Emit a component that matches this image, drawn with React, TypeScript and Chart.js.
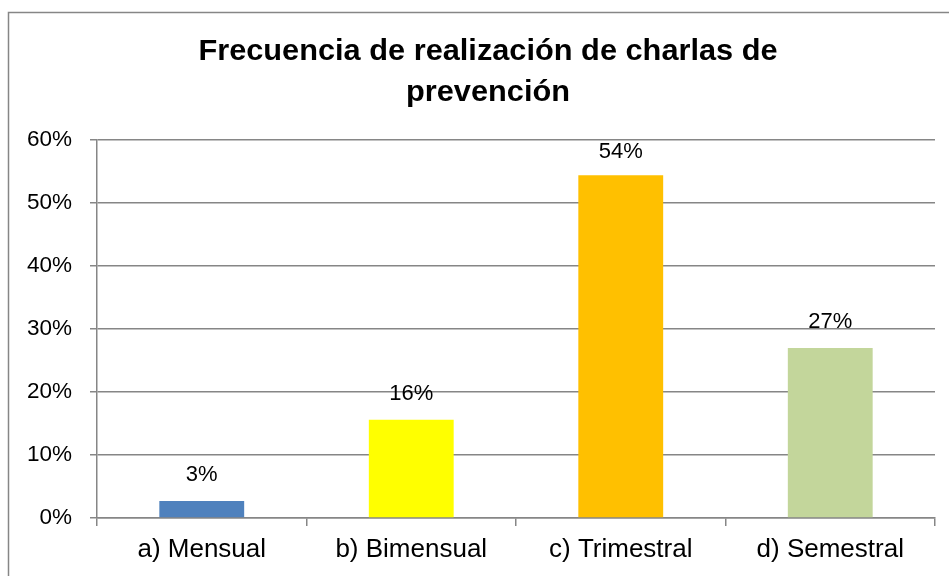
import React, { useEffect, useRef } from "react";
import { Chart, registerables } from "chart.js";

Chart.register(...registerables);

const titleLines = ["Frecuencia de realización de charlas de", "prevención"];
const categories = ["a) Mensual", "b) Bimensual", "c) Trimestral", "d) Semestral"];
const values = [2.7, 15.6, 54.4, 27.0];
const valueLabels = ["3%", "16%", "54%", "27%"];
const barColors = ["#4F81BD", "#FFFF00", "#FFC000", "#C3D69B"];
const yTicks = [0, 10, 20, 30, 40, 50, 60];

const FONT = "'Liberation Sans', Arial, sans-serif";

export default function App() {
  const ref = useRef<HTMLCanvasElement | null>(null);

  useEffect(() => {
    document.body.style.margin = "0";
    document.body.style.background = "#ffffff";
    const canvas = ref.current!;
    const framePlugin = {
      id: "frame",
      beforeDraw(chart: any) {
        const ctx = chart.ctx;
        ctx.save();
        ctx.fillStyle = "#ffffff";
        ctx.fillRect(0, 0, chart.width, chart.height);
        ctx.strokeStyle = "#868686";
        ctx.lineWidth = 1.5;
        ctx.beginPath();
        ctx.moveTo(8.5, chart.height + 5);
        ctx.lineTo(8.5, 12.5);
        ctx.lineTo(chart.width + 5, 12.5);
        ctx.stroke();
        ctx.restore();
      },
      afterDraw(chart: any) {
        const ctx = chart.ctx;
        ctx.save();
        ctx.fillStyle = "#000000";
        ctx.font = `bold 29px ${FONT}`;
        ctx.textAlign = "center";
        ctx.textBaseline = "alphabetic";
        ctx.translate(488, 0);
        ctx.scale(1.06, 1);
        ctx.fillText(titleLines[0], 0, 60);
        ctx.fillText(titleLines[1], 0, 101);
        ctx.restore();
      },
    };
    const labelPlugin = {
      id: "valueLabels",
      afterDatasetsDraw(chart: any) {
        const ctx = chart.ctx;
        const meta = chart.getDatasetMeta(0);
        ctx.save();
        ctx.fillStyle = "#000000";
        ctx.font = `22px ${FONT}`;
        ctx.textAlign = "center";
        ctx.textBaseline = "middle";
        meta.data.forEach((bar: any, i: number) => {
          ctx.fillText(valueLabels[i], bar.x, Math.max(bar.y - 26, 152));
        });
        ctx.restore();
      },
    };
    const chart = new Chart(canvas, {
      type: "bar",
      data: {
        labels: categories,
        datasets: [
          {
            data: values,
            backgroundColor: barColors,
            borderWidth: 0,
            categoryPercentage: 1,
            barPercentage: 0.405,
          },
        ],
      },
      options: {
        animation: false,
        responsive: false,
        maintainAspectRatio: false,
        layout: { padding: { top: 140, right: 14, left: 0, bottom: 0 } },
        plugins: {
          legend: { display: false },
          title: { display: false },
          tooltip: { enabled: false },
        },
        scales: {
          x: {
            grid: {
              display: true,
              drawOnChartArea: false,
              drawTicks: true,
              tickLength: 8,
              offset: true,
              color: "#868686",
              lineWidth: 1.5,
            },
            border: { display: true, color: "#868686", width: 1.5 },
            ticks: {
              color: "#000000",
              font: { family: FONT, size: 26 },
              padding: 8,
              maxRotation: 0,
            },
            afterFit(scale: any) {
              scale.height = 58;
            },
          },
          y: {
            min: 0,
            max: 60,
            afterBuildTicks(scale: any) {
              scale.ticks = yTicks.map((v) => ({ value: v }));
            },
            grid: {
              color: "#868686",
              lineWidth: 1.5,
              tickLength: 7,
              drawTicks: true,
            },
            border: { display: true, color: "#868686", width: 1.5 },
            ticks: {
              color: "#000000",
              font: { family: FONT, size: 22.5 },
              padding: 18,
              callback: (v: any) => `${v}%`,
            },
            afterFit(scale: any) {
              scale.width = 97;
            },
          },
        },
      },
      plugins: [framePlugin, labelPlugin],
    });
    return () => chart.destroy();
  }, []);

  return (
    <div style={{ width: 949, height: 576 }}>
      <canvas ref={ref} width={949} height={576} style={{ display: "block" }} />
    </div>
  );
}
